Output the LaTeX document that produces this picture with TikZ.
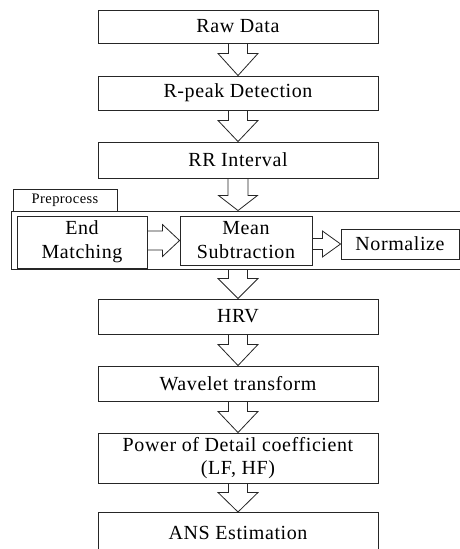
\documentclass[tikz,border=0pt]{standalone}
\usepackage{fontspec}
\setmainfont{Liberation Serif}[LetterSpace=3]
\usetikzlibrary{calc}
\newcommand\varrow[5]{%
 \draw[blk] ($(#1)+(-#4,0)$) -- ($(#1)+(-#4,#3)$) -- ($(#1)+(-#5,#3)$) -- (#2) -- ($(#1)+(#5,#3)$) -- ($(#1)+(#4,#3)$) -- ($(#1)+(#4,0)$);}
\newcommand\harrow[5]{%
 \draw[blk] ($(#1)+(0,-#4)$) -- ($(#1)+(#3,-#4)$) -- ($(#1)+(#3,-#5)$) -- (#2) -- ($(#1)+(#3,#5)$) -- ($(#1)+(#3,#4)$) -- ($(#1)+(0,#4)$);}
\begin{document}
\begin{tikzpicture}[x=1pt,y=-1pt,
  blk/.style={draw=black!85,line width=0.8pt,line join=miter},
  mainbox/.style={draw=black!85,line width=0.9pt,minimum width=280pt,inner sep=0pt,
     font=\fontsize{20}{23}\selectfont,align=center},
  subbox/.style={draw=black!85,line width=0.9pt,inner sep=0pt,
     font=\fontsize{20}{24}\selectfont,align=center},
  tabbox/.style={draw=black!85,line width=0.8pt,inner sep=0pt,
     font=\fontsize{14.5}{16}\selectfont}]
\useasboundingbox (0,0) rectangle (460,549);
\clip (0,0) rectangle (460,549);
\fill[white] (0,0) rectangle (460,549);
% main chain
\node[mainbox,minimum height=33pt] (raw) at (238,26.5) {Raw Data};
\node[mainbox,minimum height=34pt] (rpk) at (238,93) {R-peak Detection};
\node[mainbox,minimum height=36pt] (rr) at (238,160) {RR Interval};
% preprocess
\node[tabbox,minimum width=104pt,minimum height=22pt] (tab) at (65,200) {Preprocess};
\node[draw=black!85,line width=0.9pt,minimum width=459pt,minimum height=58pt,inner sep=0pt] (pre) at (240.5,240) {};
\node[subbox,minimum width=130pt,minimum height=52pt] (endm) at (82,242) {End\\Matching};
\node[subbox,minimum width=132pt,minimum height=49pt] (mean) at (246,240.5) {Mean\\Subtraction};
\node[subbox,minimum width=118pt,minimum height=30pt] (norm) at (400,244) {Normalize};
% lower chain
\node[mainbox,minimum height=35pt] (hrv) at (238,316.5) {HRV};
\node[mainbox,minimum height=35pt] (wav) at (238,383.5) {Wavelet transform};
\node[mainbox,minimum height=50pt] (pow) at (238,458) {Power of Detail coefficient\\(LF, HF)};
\node[mainbox,minimum height=41pt,anchor=north] (ans) at (238,512) {ANS Estimation};
% arrows
\varrow{raw.south}{rpk.north}{10}{9.5}{20}
\varrow{rpk.south}{rr.north}{10}{9.5}{20}
\varrow{rr.south}{rr.south |- pre.north}{17}{10}{19.5}
\varrow{hrv.north |- pre.south}{hrv.north}{9}{9.5}{20}
\varrow{hrv.south}{wav.north}{10}{9.5}{20}
\varrow{wav.south}{pow.north}{10}{9.5}{20}
\varrow{pow.south}{ans.north}{9}{9.5}{20}
\harrow{endm.east |- mean.west}{mean.west}{15}{9.5}{16}
\harrow{mean.east |- norm.west}{norm.west}{10}{5.5}{13}
\end{tikzpicture}
\end{document}
